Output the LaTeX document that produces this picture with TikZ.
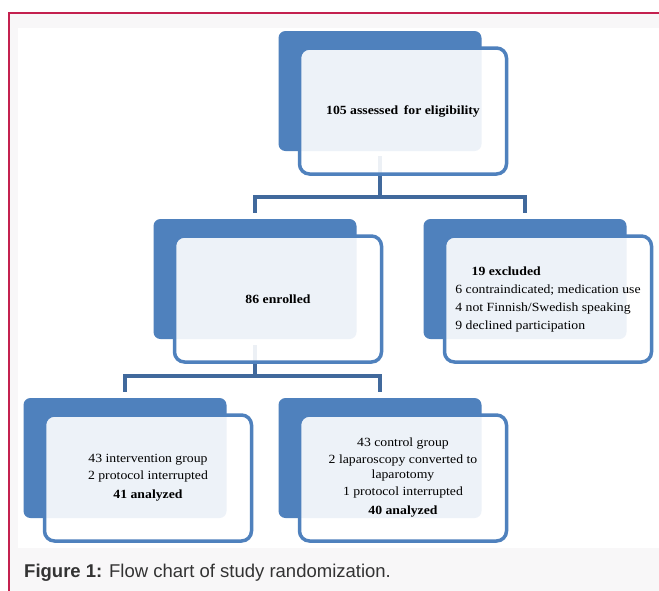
\documentclass[tikz,border=0pt]{standalone}
\usepackage{fontspec}
\setmainfont{Liberation Serif}[FakeStretch=1.1]
\newfontfamily\capfont{Liberation Sans}
\usetikzlibrary{positioning}

\definecolor{boxblue}{HTML}{4F81BD}
\definecolor{linkblue}{HTML}{41699C}
\definecolor{framered}{HTML}{C4214F}
\definecolor{panelgray}{HTML}{F8F7F8}

\tikzset{
  backbox/.style={fill=boxblue, rounded corners=7pt, minimum width=203pt,
    minimum height=120pt, inner sep=0pt},
  frontbox/.style={draw=boxblue, line width=3.5pt, fill=white, fill opacity=0.9,
    text opacity=1, rounded corners=10pt, minimum width=207pt, minimum height=126pt,
    inner sep=0pt, align=center, font=\fontsize{12.5}{15}\selectfont},
  link/.style={draw=linkblue, line width=4pt}
}

\begin{document}
\begin{tikzpicture}[x=1pt, y=-1pt, line join=miter]
        \useasboundingbox (0,0) rectangle (659,590);
        \fill[white] (0,0) rectangle (659,590);

        % page panel and frame
        \fill[panelgray] (8.5,12.5) rectangle (665,595);
        \fill[white] (17.5,28) rectangle (665,548);
        \draw[framered, line width=2pt] (8.5,595) -- (8.5,12.5) -- (665,12.5);

        % junctions
        \coordinate (j1) at (380,197);
        \coordinate (j2) at (255,376);

        % back boxes
        \node[backbox] (asmB) at (380,91)  {};
        \node[backbox] (enrB) at (255,279) {};
        \node[backbox] (excB) at (525,279) {};
        \node[backbox] (intB) at (125,458) {};
        \node[backbox] (conB) at (380,458) {};

        % connectors
        \draw[link] ([yshift=-5pt]asmB.south) -- (j1);
        \draw[link] ([yshift=6pt]enrB.north) |- (j1) -| ([yshift=6pt]excB.north);
        \draw[link] ([yshift=-6pt]enrB.south) -- (j2);
        \draw[link] ([yshift=6pt]intB.north) |- (j2) -| ([yshift=6pt]conB.north);

        % front boxes with text
        \node[frontbox] (asm) at ([shift={(23,20)}]asmB.center) {\textbf{105 assessed\, for eligibility}};
        \node[frontbox] (enr) at ([shift={(23,20)}]enrB.center) {\textbf{86 enrolled}};
        \node[frontbox, align=left] (exc) at ([shift={(23,20)}]excB.center)
          {\hspace*{1.3em}\textbf{19 excluded}\hspace*{4pt}\\[3pt]
           6 contraindicated; medication use\hspace*{4pt}\\[3pt]
           4 not Finnish/Swedish speaking\\[3pt]
           9 declined participation};
        \node[frontbox] (int) at ([shift={(23,20)}]intB.center)
          {43 intervention group\\[2pt]
           2 protocol interrupted\\[4pt]
           \textbf{41 analyzed}};
        \node[frontbox] (con) at ([shift={(23,20)}]conB.center)
          {43 control group\\[2pt]
           2 laparoscopy converted to\\
           laparotomy\\[2pt]
           1 protocol interrupted\\[4pt]
           \textbf{40 analyzed}};

        % caption
        \node[anchor=west, inner sep=0pt, text=black!80, font=\capfont\fontsize{18.5}{22}\selectfont]
          (cap) at (24,573) {\textbf{Figure 1:} Flow chart of study randomization.};
\end{tikzpicture}
\end{document}
